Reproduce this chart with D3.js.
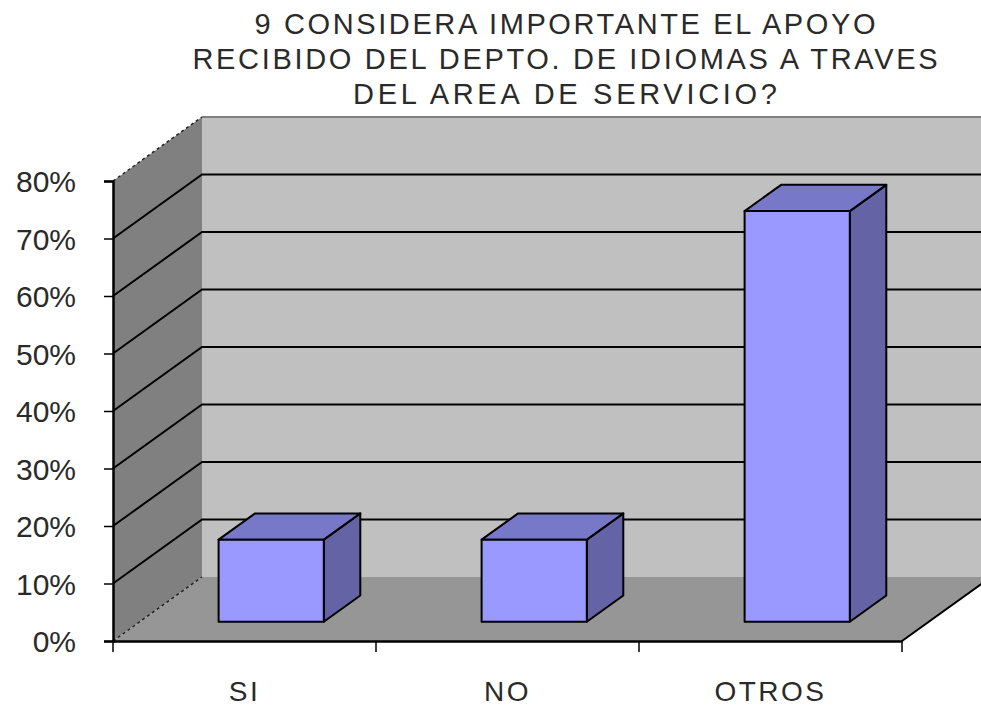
<!DOCTYPE html>
<html>
<head>
<meta charset="utf-8">
<script src="https://cdn.jsdelivr.net/npm/d3@7"></script>
<style>
  body { margin: 0; background: #fff; overflow: hidden; }
  text { font-family: "Liberation Sans", Arial, sans-serif; fill: #2a2a2a; }
</style>
</head>
<body>
<div id="chart"></div>
<script>
// chart data
const titleLines = [
  "9 CONSIDERA IMPORTANTE EL APOYO",
  "RECIBIDO DEL DEPTO. DE IDIOMAS A TRAVES",
  "DEL AREA DE SERVICIO?",
];
const categories = ["SI", "NO", "OTROS"];
const values = [0.1429, 0.1429, 0.7143];
const yTicks = [0, 0.1, 0.2, 0.3, 0.4, 0.5, 0.6, 0.7, 0.8];

const W = 981, H = 708;
// 3d depth offset of the plot box
const dx = 89, dy = -64;
const barZ0 = 0.3, barZ1 = 0.71;

const svg = d3
  .select("#chart")
  .append("svg")
  .attr("width", W)
  .attr("height", H);

const x = d3
  .scaleBand()
  .domain(categories)
  .range([113, 902])
  .paddingInner(0.6)
  .paddingOuter(0.3);

const y = d3.scaleLinear().domain([0, 0.8]).range([641, 181]);

const x0 = 113, x1 = 902;
const yMin = y(0), yMax = y(0.8);

const pts = (arr) => arr.map((p) => p.join(",")).join(" ");

// back wall
svg
  .append("rect")
  .attr("x", x0 + dx)
  .attr("y", yMax + dy)
  .attr("width", W - (x0 + dx) + 5)
  .attr("height", yMin - yMax)
  .attr("fill", "#c0c0c0");

svg
  .append("line")
  .attr("x1", x0 + dx)
  .attr("x2", W)
  .attr("y1", yMax + dy)
  .attr("y2", yMax + dy)
  .attr("stroke", "#808080")
  .attr("stroke-width", 2);

// side wall
svg
  .append("polygon")
  .attr("points", pts([[x0, yMin], [x0, yMax], [x0 + dx, yMax + dy], [x0 + dx, yMin + dy]]))
  .attr("fill", "#808080");

// floor
svg
  .append("polygon")
  .attr("points", pts([[x0, yMin], [x1, yMin], [x1 + dx, yMin + dy], [x0 + dx, yMin + dy]]))
  .attr("fill", "#969696");

// gridlines on side and back wall
const inner = yTicks.filter((t) => t > 0 && t < 0.8);
svg
  .append("g")
  .selectAll("polyline")
  .data(inner)
  .join("polyline")
  .attr("points", (d) => pts([[x0, y(d)], [x0 + dx, y(d) + dy], [W, y(d) + dy]]))
  .attr("fill", "none")
  .attr("stroke", "#000")
  .attr("stroke-width", 2);

// dotted edges of side wall (top and floor)
svg
  .append("g")
  .selectAll("line")
  .data([0, 0.8])
  .join("line")
  .attr("x1", x0)
  .attr("y1", (d) => y(d))
  .attr("x2", x0 + dx)
  .attr("y2", (d) => y(d) + dy)
  .attr("stroke", "#222")
  .attr("stroke-width", 1.5)
  .attr("stroke-dasharray", "3,3");

// floor right edge
svg
  .append("line")
  .attr("x1", x1)
  .attr("y1", yMin)
  .attr("x2", x1 + dx)
  .attr("y2", yMin + dy)
  .attr("stroke", "#000")
  .attr("stroke-width", 2);

// Y axis
const yAxis = svg
  .append("g")
  .attr("transform", `translate(${x0},0)`)
  .call(d3.axisLeft(y).tickValues(yTicks).tickFormat(d3.format(".0%")).tickSize(9).tickPadding(28));
yAxis.select(".domain").attr("stroke", "#000").attr("stroke-width", 2.5);
yAxis.selectAll(".tick line").attr("stroke", "#000").attr("stroke-width", 1.5);
yAxis
  .selectAll(".tick text")
  .attr("font-size", 30)
  .attr("font-family", "Liberation Sans, Arial, sans-serif")
  .attr("fill", "#2a2a2a")
  .attr("dy", "0.36em");

// X axis
const xAxis = svg
  .append("g")
  .attr("transform", `translate(0,${yMin})`)
  .call(d3.axisBottom(x).tickSize(0).tickFormat(""));
xAxis.select(".domain").attr("stroke", "#000").attr("stroke-width", 2.5);

const bounds = [x0].concat(categories.map((c) => x(c) + x.bandwidth() / 2 + x.step() / 2));
svg
  .append("g")
  .selectAll("line")
  .data(bounds)
  .join("line")
  .attr("x1", (d) => d)
  .attr("x2", (d) => d)
  .attr("y1", yMin)
  .attr("y2", yMin + 11)
  .attr("stroke", "#000")
  .attr("stroke-width", 1.5);

// category labels
svg
  .append("g")
  .selectAll("text")
  .data(categories)
  .join("text")
  .attr("x", (d) => x(d) + x.bandwidth() / 2)
  .attr("y", 701)
  .attr("text-anchor", "middle")
  .attr("font-size", 28)
  .attr("letter-spacing", 2.5)
  .text((d) => d);

// bars
const bdx = (barZ1 - barZ0) * dx, bdy = (barZ1 - barZ0) * dy;
const bar = svg
  .append("g")
  .selectAll("g")
  .data(categories.map((c, i) => ({ c, v: values[i] })))
  .join("g")
  .attr("stroke", "#000")
  .attr("stroke-width", 2)
  .attr("stroke-linejoin", "round");

const geo = (d) => {
  const l = x(d.c) + barZ0 * dx;
  const r = l + x.bandwidth();
  const t = y(d.v) + barZ0 * dy;
  const b = y(0) + barZ0 * dy;
  return { l, r, t, b };
};

bar
  .append("polygon")
  .attr("fill", "#6363a6")
  .attr("points", (d) => {
    const g = geo(d);
    return pts([[g.r, g.t], [g.r + bdx, g.t + bdy], [g.r + bdx, g.b + bdy], [g.r, g.b]]);
  });

bar
  .append("polygon")
  .attr("fill", "#7878c8")
  .attr("points", (d) => {
    const g = geo(d);
    return pts([[g.l, g.t], [g.r, g.t], [g.r + bdx, g.t + bdy], [g.l + bdx, g.t + bdy]]);
  });

bar
  .append("rect")
  .attr("fill", "#9999ff")
  .attr("x", (d) => geo(d).l)
  .attr("y", (d) => geo(d).t)
  .attr("width", x.bandwidth())
  .attr("height", (d) => geo(d).b - geo(d).t);

// title
const titleWidths = [621, 745, 424];
svg
  .append("g")
  .selectAll("text")
  .data(titleLines)
  .join("text")
  .attr("x", 565)
  .attr("y", (d, i) => 34 + i * 35)
  .attr("text-anchor", "middle")
  .attr("font-size", 29)
  .attr("textLength", (d, i) => titleWidths[i])
  .attr("lengthAdjust", "spacing")
  .text((d) => d);
</script>
</body>
</html>
